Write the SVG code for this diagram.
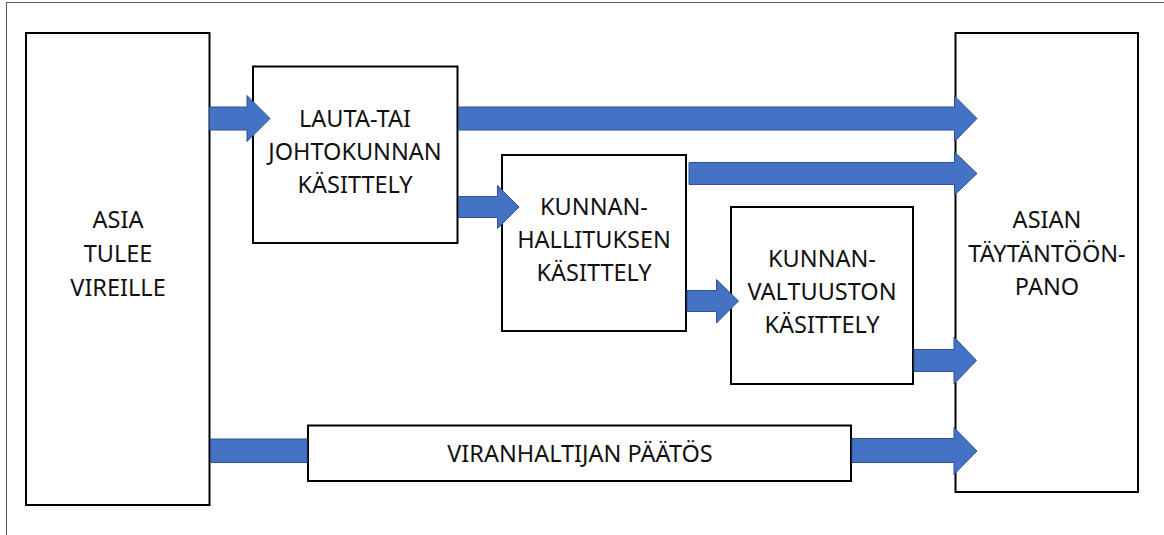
<svg xmlns="http://www.w3.org/2000/svg" width="1164" height="535" viewBox="0 0 1164 535">
  <style>
    .frame { fill: none; stroke: #595959; stroke-width: 1; }
    .box { fill: #ffffff; stroke: #000000; stroke-width: 2; }
    .lbl { font-family: "Noto Sans", "Liberation Sans", sans-serif; font-size: 23.5px; fill: #111111; text-anchor: middle; }
    .arrow { fill: #4472C4; stroke: #2F528F; stroke-width: 1; stroke-linejoin: miter; }
  </style>
  <rect x="0" y="0" width="1164" height="535" fill="#ffffff"/>
  <rect class="frame" x="6.5" y="2.5" width="1170" height="545"/>

  <g id="nodes">
    <g id="asia-tulee-vireille">
      <rect class="box" x="26" y="33" width="183.5" height="472"/>
      <text class="lbl" x="118" y="228">ASIA</text>
      <text class="lbl" x="118" y="262">TULEE</text>
      <text class="lbl" x="118" y="296">VIREILLE</text>
    </g>
    <g id="lautakunta">
      <rect class="box" x="253" y="66.5" width="204.5" height="176.5"/>
      <text class="lbl" x="355" y="127">LAUTA-TAI</text>
      <text class="lbl" x="355" y="160">JOHTOKUNNAN</text>
      <text class="lbl" x="355" y="193">KÄSITTELY</text>
    </g>
    <g id="kunnanhallitus">
      <rect class="box" x="502" y="155" width="184" height="176"/>
      <text class="lbl" x="594" y="215">KUNNAN-</text>
      <text class="lbl" x="594" y="248">HALLITUKSEN</text>
      <text class="lbl" x="594" y="281">KÄSITTELY</text>
    </g>
    <g id="kunnanvaltuusto">
      <rect class="box" x="731" y="207" width="182" height="177"/>
      <text class="lbl" x="822" y="267">KUNNAN-</text>
      <text class="lbl" x="822" y="300">VALTUUSTON</text>
      <text class="lbl" x="822" y="333">KÄSITTELY</text>
    </g>
    <g id="taytantoonpano">
      <rect class="box" x="955.5" y="33" width="182.5" height="459"/>
      <text class="lbl" x="1047" y="228">ASIAN</text>
      <text class="lbl" x="1047" y="262">TÄYTÄNTÖÖN-</text>
      <text class="lbl" x="1047" y="295">PANO</text>
    </g>
    <g id="viranhaltija">
      <rect class="box" x="308" y="425.5" width="543" height="55.5"/>
      <text class="lbl" x="580" y="461.5">VIRANHALTIJAN PÄÄTÖS</text>
    </g>
  </g>

  <g id="connectors">
    <path class="arrow" d="M209.5,107 H247 V95.5 L270,118.5 L247,141.5 V130 H209.5 Z"/>
    <path class="arrow" d="M458.5,107 H954.5 V96 L977,118.5 L954.5,141.5 V130 H458.5 Z"/>
    <path class="arrow" d="M458.5,196.5 H497.5 V185.5 L519,207 L497.5,228.5 V217.5 H458.5 Z"/>
    <path class="arrow" d="M689,162.5 H954.5 V152 L977,173.5 L954.5,195 V184.5 H689 Z"/>
    <path class="arrow" d="M687,290.5 H716.5 V279.5 L738.5,301 L716.5,323 V311.5 H687 Z"/>
    <path class="arrow" d="M914,349.5 H954 V337 L976.5,360.5 L954,384 V371.5 H914 Z"/>
    <path class="arrow" d="M210.5,439 H307 V462.5 H210.5 Z"/>
    <path class="arrow" d="M852,438.5 H954 V427.5 L977,451 L954,474.5 V462.5 H852 Z"/>
  </g>
</svg>
